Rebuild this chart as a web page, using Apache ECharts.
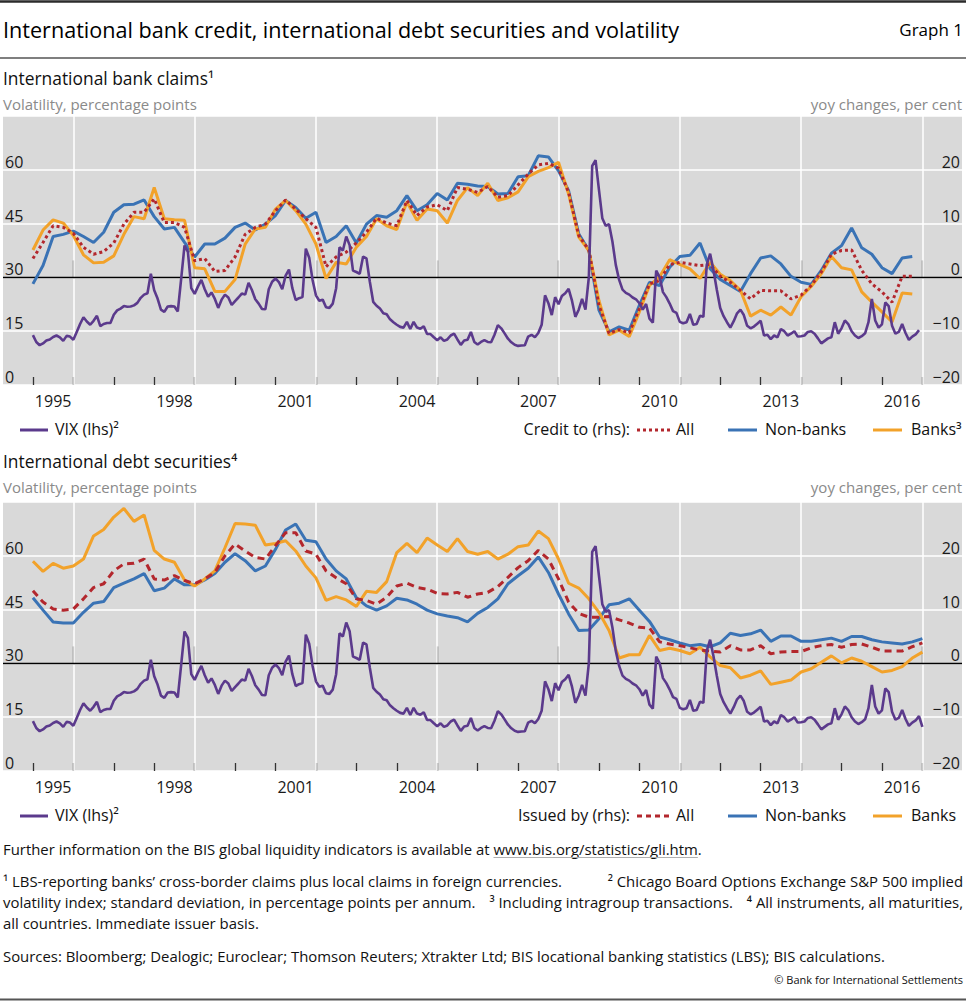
<!DOCTYPE html>
<html><head><meta charset="utf-8">
<script src="https://cdn.jsdelivr.net/npm/echarts@6/dist/echarts.min.js"></script>
<style>html,body{margin:0;padding:0;background:#fff;}#c{width:966px;height:1002px;}</style>
</head><body><div id="c"></div>
<script>
// ---------- DATA ----------
// VIX, monthly, starting Dec 1994 (index 0 plotted at 1995.0), step 1/12 year
const vix = [
13.9,12.0,11.1,11.6,12.4,12.7,13.4,13.8,13.3,12.3,13.7,13.5,
12.6,14.8,17.0,18.9,17.7,16.8,17.9,19.3,16.4,17.0,17.3,17.3,
19.6,20.8,21.3,22.0,21.8,21.9,22.2,22.9,24.3,25.2,25.6,31.0,
26.4,24.1,21.0,20.4,21.9,22.0,21.9,20.5,29.6,38.9,37.1,27.0,
25.4,27.5,29.3,26.7,24.6,25.8,24.0,21.5,23.8,25.2,24.4,22.3,
23.4,24.4,25.5,25.2,28.5,26.5,23.9,22.7,21.2,21.1,26.7,28.8,
29.7,28.7,26.7,30.5,32.2,27.0,23.7,24.2,24.5,38.0,35.5,29.3,
25.0,23.5,23.8,21.7,21.5,22.7,27.0,38.4,37.5,41.4,39.0,31.9,
31.5,31.0,35.8,35.3,28.8,23.2,22.1,21.3,20.0,19.7,18.3,17.5,
16.8,16.2,16.0,17.6,15.6,17.6,16.0,15.7,16.4,14.2,14.2,13.3,
12.5,13.3,12.3,12.7,13.8,14.3,12.7,11.2,12.4,12.6,14.8,12.0,
11.3,12.0,12.5,12.0,11.9,14.0,16.7,15.8,14.4,12.9,11.9,11.2,
10.9,11.0,11.1,13.5,14.0,13.3,14.5,16.8,25.0,22.8,19.5,24.5,
22.5,24.8,25.6,26.8,23.5,19.0,21.0,24.0,21.0,30.0,61.1,62.7,
54.5,46.5,44.4,44.8,40.0,33.5,29.3,26.6,25.7,25.2,24.4,23.9,
22.8,21.0,22.6,18.5,17.4,31.9,30.1,25.9,24.5,22.7,20.6,20.1,
17.6,17.2,17.5,19.8,16.8,17.0,19.3,19.0,33.5,36.6,32.0,26.5,
21.5,19.2,17.5,16.0,17.8,20.0,21.0,19.5,16.5,15.8,16.3,17.1,
17.9,13.8,14.0,12.8,13.8,13.3,15.6,15.0,13.8,14.3,15.0,13.5,
13.6,13.8,14.8,15.0,14.3,13.0,11.6,12.3,13.0,13.3,17.5,14.3,
15.8,18.0,17.0,15.0,13.8,13.1,13.6,14.4,17.5,24.0,18.0,16.0,
16.9,23.0,22.0,16.5,14.3,14.8,17.0,14.5,12.6,13.5,14.1,15.3,12.3
];
const vixTopCount = 264; // top panel ends one month earlier

// International bank claims, yoy % (quarterly, first point at 1995.0)
const claimsAll = [
3.5,6.5,9.6,9.3,8.2,5.6,4.3,4.8,6.4,9.9,
12.1,12.1,14.6,10.2,10.2,9.3,3.1,3.5,1.1,1.3,
3.8,8.0,9.3,9.9,12.4,14.4,12.7,10.9,9.3,2.0,
3.8,4.7,6.4,8.4,11.0,10.1,9.6,14.3,11.5,13.1,
13.5,12.4,16.7,16.4,15.8,16.9,14.9,15.2,17.2,19.2,
20.9,21.2,20.3,15.8,7.8,5.1,-5.2,-10.4,-9.7,-10.3,
-5.8,-1.2,-0.6,2.4,2.8,2.5,2.2,2.4,0.2,-0.9,
-2.4,-4.0,-2.4,-2.5,-2.5,-4.0,-3.3,-1.5,1.0,4.3,
5.0,5.1,1.3,-1.2,-2.7,-4.6,0.2,0.2
];
const claimsNonBanks = [
-1.2,2.2,7.6,8.0,8.6,7.6,6.5,8.4,12.1,13.5,
13.6,14.4,11.3,9.0,9.3,6.5,3.8,6.2,6.2,7.3,
9.3,10.1,8.8,9.9,11.5,14.3,13.0,11.0,12.1,6.5,
7.6,9.6,6.4,9.9,11.5,11.2,12.4,15.2,12.4,13.5,
15.6,14.4,17.5,17.3,17.0,16.9,15.5,15.6,18.7,18.9,
22.6,22.4,19.8,16.1,8.1,5.0,-6.1,-10.1,-9.2,-9.8,
-5.2,-0.9,-1.5,1.9,3.9,4.1,6.4,1.6,-0.4,-1.5,
-2.6,0.7,3.6,4.0,2.5,0.2,-0.9,-1.3,1.3,4.5,
5.9,9.2,5.5,4.3,1.8,0.7,3.6,3.9
];
const claimsBanks = [
5.1,8.8,10.7,10.1,7.8,4.2,2.7,2.8,4.0,8.0,
11.3,10.9,16.7,10.9,10.7,10.6,1.8,1.6,-2.6,-2.6,
-0.4,6.2,9.0,9.3,12.7,14.3,12.4,9.9,6.2,-0.2,
2.8,2.5,5.6,7.6,10.9,9.6,8.9,14.0,10.6,12.7,
12.4,10.1,14.3,16.7,15.2,17.5,14.3,14.8,15.9,18.7,
19.7,20.4,21.4,15.5,7.5,5.0,-4.3,-10.7,-9.8,-11.0,
-6.4,-1.5,0.1,3.3,2.4,1.6,-0.2,2.8,0.6,-0.6,
-2.4,-7.2,-6.1,-7.0,-5.5,-7.0,-3.6,-1.7,0.7,3.9,
1.8,1.4,-2.7,-4.6,-6.4,-8.3,-2.9,-3.1
];

// International debt securities, yoy % (quarterly, first point at 1995.0)
const debtAll = [
13.5,11.4,10.1,9.9,10.1,12.0,14.1,14.8,17.2,18.5,
18.6,19.4,15.7,15.5,16.3,15.4,14.8,15.7,16.9,20.0,
22.2,20.9,19.7,19.4,21.9,24.3,24.3,20.9,20.3,17.2,
15.9,14.8,12.0,11.7,11.0,12.3,14.4,14.9,14.1,13.8,
13.0,12.9,13.2,12.3,12.9,13.2,14.3,16.0,17.8,19.1,
21.0,19.4,15.7,11.4,9.3,8.6,8.6,8.7,8.1,7.5,
6.7,6.6,4.0,3.6,3.3,2.9,2.5,2.3,2.1,3.3,
2.5,2.5,3.3,1.8,2.1,2.2,2.2,2.9,3.3,3.5,
3.0,3.5,3.6,3.0,2.3,2.3,2.3,3.1,3.8
];
const debtNonBanks = [
12.2,9.9,7.7,7.5,7.5,9.5,11.2,11.5,14.1,14.9,
15.7,16.7,13.5,14.0,15.7,14.6,14.6,15.5,16.7,18.8,
20.4,19.1,17.2,18.1,21.2,24.8,25.9,22.9,22.6,19.4,
17.2,15.7,12.2,10.7,9.9,10.7,12.1,11.8,11.0,9.9,
9.2,8.8,8.5,7.7,9.3,10.4,12.0,14.8,16.3,17.7,
19.8,16.9,12.9,9.2,6.1,6.2,8.3,10.9,11.2,12.0,
9.9,7.8,4.9,4.4,3.8,3.3,3.5,3.1,3.8,5.6,
5.2,5.5,6.2,4.1,5.1,5.1,4.1,4.1,4.4,4.7,
4.1,5.0,5.0,4.4,4.0,3.8,3.6,4.0,4.6
];
const debtBanks = [
19.0,17.1,18.6,17.7,18.1,19.4,23.7,24.9,27.2,28.8,
26.4,27.6,21.0,19.4,18.8,15.5,14.4,15.7,17.2,21.5,
26.0,25.9,25.7,22.0,22.3,22.8,20.9,18.1,15.9,11.7,
12.4,11.8,10.6,13.4,13.2,15.2,20.6,22.3,20.6,23.3,
22.0,20.8,23.2,20.8,20.3,20.8,19.4,20.3,21.7,22.0,
24.6,23.2,19.4,14.9,14.0,12.0,9.5,6.1,1.0,1.6,
1.6,5.2,2.4,2.8,2.4,1.8,3.0,1.2,-0.4,-0.8,
-2.7,-2.2,-1.4,-3.9,-3.5,-3.1,-1.6,-1.0,0.2,1.4,
0.1,1.0,0.4,-0.6,-1.6,-1.3,-0.6,1.0,2.1
];

// Axis ticks / labels
const yearTicks = [1995,1996,1997,1998,1999,2000,2001,2002,2003,2004,2005,2006,2007,2008,2009,2010,2011,2012,2013,2014,2015,2016,2017];
const majorTicks = [1996,1999,2002,2005,2008,2011,2014,2017];
const yearLabels = [1995,1998,2001,2004,2007,2010,2013,2016];
const leftTicks = [0,15,30,45,60];
const rightTicks = [-20,-10,0,10,20];

// ---------- BUILD ----------
const FONT = "'Open Sans','Noto Sans','DejaVu Sans',sans-serif";
const C = {vix:'#5b3a8c', all:'#b3272d', non:'#3a73b5', banks:'#f2a22a'};
const XMIN = 1994.26, XMAX = 2017.98;
const monthly = arr => arr.map((v,k)=>[1995 + k/12, v]);
const quarterly = arr => arr.map((v,i)=>[1995 + i/4, v]);

const panels = [
  {top:116, vix: vix.slice(0, vixTopCount), all: claimsAll, non: claimsNonBanks, banks: claimsBanks, allDash:[3,3]},
  {top:502, vix: vix, all: debtAll, non: debtNonBanks, banks: debtBanks, allDash:[7,5]}
];
const PH = 269;

const grid=[], xAxis=[], yAxis=[], series=[];
panels.forEach((p,g)=>{
  grid.push({left:3, top:p.top, width:959, height:PH, show:true, backgroundColor:'#d9d9d9', borderWidth:0});
  xAxis.push({type:'value', gridIndex:g, min:XMIN, max:XMAX, position:'bottom',
    axisLine:{show:false}, splitLine:{show:false},
    axisTick:{show:true, inside:true, length:8, customValues: yearTicks, lineStyle:{color:'#333', width:1.3}},
    axisLabel:{show:true, customValues: yearLabels.map(y=>y+0.5), formatter: v=>String(Math.round(v-0.5)),
      fontFamily:FONT, fontSize:16, color:'#1a1a1a', margin:8}
  });
  xAxis.push({type:'value', gridIndex:g, min:XMIN, max:XMAX, position:'bottom',
    axisLine:{show:false}, splitLine:{show:false}, axisLabel:{show:false},
    axisTick:{show:true, inside:true, length:17, customValues: majorTicks, lineStyle:{color:'#333', width:1.3}}
  });
  yAxis.push({type:'value', gridIndex:g, min:0, max:75, interval:15, position:'left',
    axisLine:{show:false}, axisTick:{show:false},
    splitLine:{show:true, lineStyle:{color:'#ffffff', width:1.5}},
    axisLabel:{inside:true, margin:2, verticalAlign:'bottom', fontFamily:FONT, fontSize:16, color:'#1a1a1a',
      formatter: v => leftTicks.includes(v) ? String(v) : ''}
  });
  yAxis.push({type:'value', gridIndex:g, min:-20, max:30, interval:10, position:'right',
    axisLine:{show:false}, axisTick:{show:false}, splitLine:{show:false},
    axisLabel:{inside:true, margin:2, verticalAlign:'bottom', fontFamily:FONT, fontSize:16, color:'#1a1a1a',
      formatter: v => rightTicks.includes(v) ? (v<0 ? '\u2212'+(-v) : String(v)) : ''}
  });
  const xi = 2*g, yl = 2*g, yr = 2*g+1;
  series.push({type:'line', name:'vgrid'+g, xAxisIndex:xi, yAxisIndex:yl, data:[], silent:true, z:1,
    markLine:{silent:true, z:1, symbol:['none','none'], label:{show:false}, animation:false,
      lineStyle:{color:'#ffffff', width:1.5, type:'solid'}, data: majorTicks.map(v=>({xAxis:v}))}});
  series.push({type:'line', name:'zero'+g, xAxisIndex:xi, yAxisIndex:yr, data:[], silent:true, z:2,
    markLine:{silent:true, z:2, symbol:['none','none'], label:{show:false}, animation:false,
      lineStyle:{color:'#000000', width:1.3, type:'solid'}, data:[{yAxis:0}]}});
  const base = {type:'line', symbol:'none', showSymbol:false, animation:false, silent:true, xAxisIndex:xi};
  series.push(Object.assign({}, base, {name:'non'+g, yAxisIndex:yr, z:10, data: quarterly(p.non), lineStyle:{color:C.non, width:3}}));
  series.push(Object.assign({}, base, {name:'banks'+g, yAxisIndex:yr, z:11, data: quarterly(p.banks), lineStyle:{color:C.banks, width:3}}));
  series.push(Object.assign({}, base, {name:'all'+g, yAxisIndex:yr, z:12, data: quarterly(p.all), lineStyle:{color:C.all, width:3, type:p.allDash}}));
  series.push(Object.assign({}, base, {name:'vix'+g, yAxisIndex:yl, z:13, data: monthly(p.vix), lineStyle:{color:C.vix, width:2.6}}));
});

// ---------- TEXT / DECORATION ----------
const mctx = document.createElement('canvas').getContext('2d');
function measure(t, size){ mctx.font = size+'px '+FONT; return mctx.measureText(t).width; }
function txt(text, x, y, size, o){ o=o||{};
  return {type:'text', silent:true, z:50, style:{text, x, y, fontFamily:FONT, fontSize:size, fill:o.fill||'#111',
    textAlign:o.align||'left', textVerticalAlign:'middle'}}; }
function ln(x1,y1,x2,y2,color,w,dash){ return {type:'line', silent:true, z:50, shape:{x1,y1,x2,y2},
  style:{stroke:color, lineWidth:w, lineDash:dash||null}}; }

const G = [];
G.push(ln(0,1.5,966,1.5,'#2b2b2b',2.5));
G.push(txt('International bank credit, international debt securities and volatility',3,29,21.6,{fill:'#000'}));
G.push(txt('Graph 1',963,29,17,{align:'right',fill:'#000'}));
G.push(ln(0,58,966,58,'#555',1.5));

const panelHead = [
  {title:'International bank claims\u00b9', y:78, unitY:104},
  {title:'International debt securities\u2074', y:461, unitY:487}
];
panelHead.forEach(h=>{
  G.push(txt(h.title,3,h.y,17.4,{fill:'#111'}));
  G.push(txt('Volatility, percentage points',3,h.unitY,15,{fill:'#8a8a8a'}));
  G.push(txt('yoy changes, per cent',962,h.unitY,15,{align:'right',fill:'#8a8a8a'}));
});

// legends
function legend(y, label, names, dash){
  G.push(ln(20,y,48,y,C.vix,3));
  G.push(txt('VIX (lhs)\u00b2',55,y-1,16));
  G.push(txt(label,630,y-1,16,{align:'right'}));
  G.push(ln(637,y,670,y,C.all,3,dash));
  G.push(txt('All',676,y-1,16));
  G.push(ln(728,y,757,y,C.non,3));
  G.push(txt('Non-banks',765,y-1,16));
  G.push(ln(873,y,902,y,C.banks,3));
  G.push(txt(names,911,y-1,16));
}
legend(430,'Credit to (rhs):','Banks\u00b3',[3,3]);
legend(816,'Issued by (rhs):','Banks',[5,4]);

// footnotes
const FS = 14.9;
const f1a = 'Further information on the BIS global liquidity indicators is available at ';
const f1b = 'www.bis.org/statistics/gli.htm';
G.push(txt(f1a,3,849,FS));
const lx = 3 + measure(f1a,FS);
G.push(txt(f1b,lx,849,FS));
G.push(txt('.',lx+measure(f1b,FS),849,FS));
G.push(ln(lx,857.5,lx+measure(f1b,FS),857.5,'#b0b0b0',1));

G.push(txt('\u00b9 LBS-reporting banks\u2019 cross-border claims plus local claims in foreign currencies.',3,881,FS));
G.push(txt('\u00b2 Chicago Board Options Exchange S&P 500 implied',963,881,FS,{align:'right'}));
const l2a='volatility index; standard deviation, in percentage points per annum.';
const l2b='\u00b3 Including intragroup transactions.';
const l2c='\u2074 All instruments, all maturities,';
const wa=measure(l2a,FS), wb=measure(l2b,FS), wc=measure(l2c,FS);
const gap=(960 - wa - wb - wc)/2;
G.push(txt(l2a,3,902,FS));
G.push(txt(l2b,3+wa+gap,902,FS));
G.push(txt(l2c,963,902,FS,{align:'right'}));
G.push(txt('all countries. Immediate issuer basis.',3,922.5,FS));
G.push(txt('Sources: Bloomberg; Dealogic; Euroclear; Thomson Reuters; Xtrakter Ltd; BIS locational banking statistics (LBS); BIS calculations.',3,956,FS));
G.push(txt('\u00a9 Bank for International Settlements',963,979,11,{align:'right'}));
G.push(ln(0,999.5,966,999.5,'#555',2));

const chart = echarts.init(document.getElementById('c'), null, {renderer:'svg', width:966, height:1002});
chart.setOption({animation:false, backgroundColor:'#ffffff', grid, xAxis, yAxis, series, graphic:{elements:G}});
</script>
</body></html>
